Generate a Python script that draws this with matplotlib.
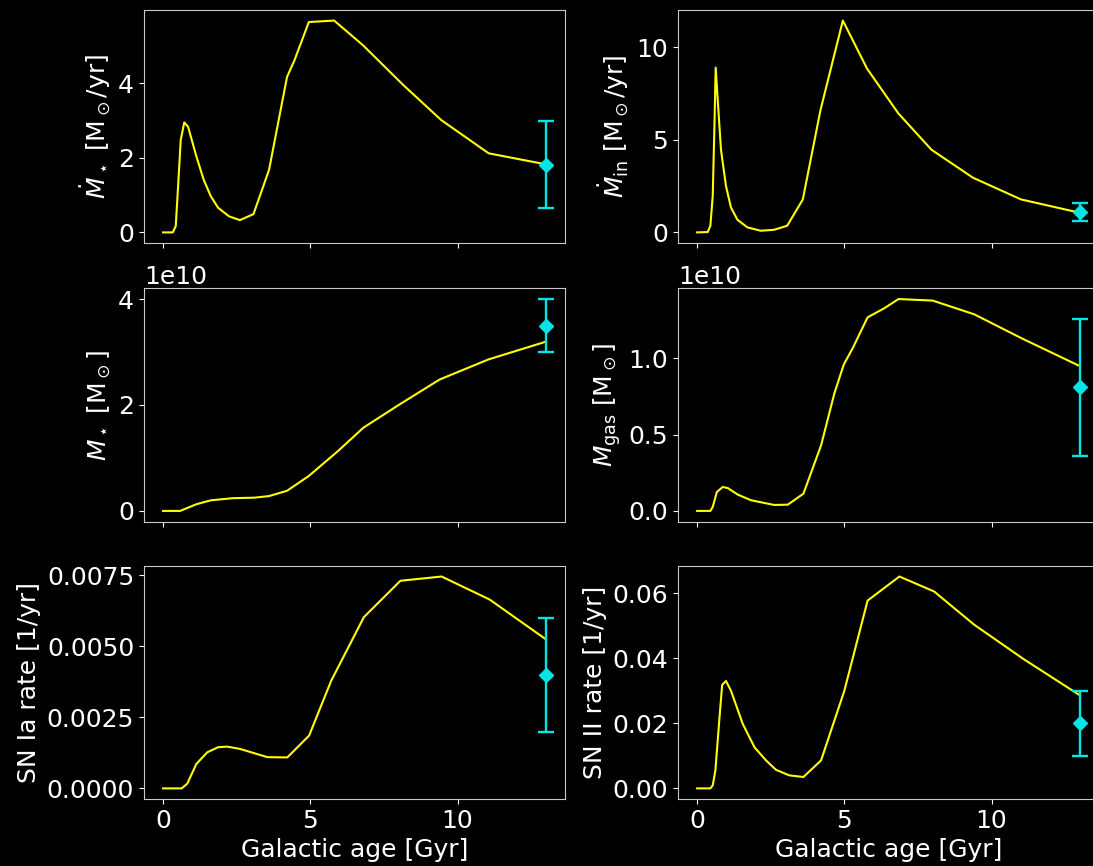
import numpy as np
import matplotlib
matplotlib.use('Agg')
import matplotlib.pyplot as plt

# star formation rate [Msun/yr]
t_sfr = [0, 0.33, 0.43, 0.51, 0.60, 0.72, 0.85, 1.13, 1.38, 1.62, 1.87, 2.24, 2.61, 3.07,
         3.60, 4.21, 4.46, 4.95, 5.81, 6.80, 8.16, 9.45, 11.06, 12.97]
sfr = [0, 0, 0.17, 1.24, 2.48, 2.95, 2.83, 2.04, 1.41, 0.97, 0.66, 0.43, 0.33, 0.49,
       1.68, 4.17, 4.61, 5.64, 5.68, 5.01, 3.95, 3.01, 2.12, 1.83]

# infall rate [Msun/yr]
t_inf = [0, 0.36, 0.45, 0.53, 0.59, 0.63, 0.70, 0.81, 0.98, 1.15, 1.37, 1.71, 2.16, 2.61,
         3.06, 3.59, 4.19, 4.95, 5.77, 6.83, 7.96, 9.37, 11.0, 12.97]
inflow = [0, 0.02, 0.36, 1.96, 5.89, 8.89, 7.14, 4.46, 2.5, 1.34, 0.68, 0.27, 0.09, 0.14,
          0.36, 1.78, 6.6, 11.43, 8.84, 6.43, 4.46, 2.95, 1.78, 1.07]

# stellar mass [1e10 Msun]
t_mstar = [0, 0.58, 1.13, 1.62, 2.36, 3.10, 3.60, 4.21, 4.95, 5.94, 6.80, 8.03, 9.39, 11.05, 12.97]
mstar = [0, 0, 0.126, 0.20, 0.24, 0.25, 0.28, 0.38, 0.66, 1.13, 1.57, 2.01, 2.48, 2.86, 3.19]

# gas mass [1e10 Msun]
t_mgas = [0, 0.45, 0.53, 0.67, 0.87, 1.04, 1.38, 1.83, 2.62, 3.08, 3.61, 4.21, 4.66, 4.98,
          5.29, 5.79, 6.36, 6.84, 8.0, 9.41, 11.05, 13.0]
mgas = [0, 0, 0.026, 0.124, 0.157, 0.150, 0.107, 0.07, 0.039, 0.041, 0.113, 0.43, 0.77, 0.96,
        1.07, 1.27, 1.33, 1.39, 1.38, 1.29, 1.13, 0.95]

# SN Ia rate [1/yr]
t_snia = [0, 0.63, 0.82, 1.13, 1.50, 1.87, 2.18, 2.61, 3.54, 4.22, 4.96, 5.71, 6.82, 8.06,
          9.46, 11.09, 13.0]
snia = [0, 0, 0.000164, 0.00086, 0.00127, 0.00145, 0.00147, 0.00139, 0.0011, 0.00109,
        0.00186, 0.00379, 0.00603, 0.00731, 0.00746, 0.00665, 0.00525]

# SN II rate [1/yr]
t_snii = [0, 0.45, 0.53, 0.62, 0.76, 0.85, 0.98, 1.15, 1.55, 1.95, 2.34, 2.68, 3.13, 3.61,
          4.21, 5.0, 5.79, 6.87, 8.05, 9.41, 11.11, 13.0]
snii = [0, 0, 0.0009, 0.0055, 0.0218, 0.0318, 0.033, 0.030, 0.0198, 0.0126, 0.0086, 0.0057,
        0.004, 0.0035, 0.0086, 0.030, 0.0577, 0.0651, 0.0605, 0.0503, 0.0396, 0.0286]

# observed present-day values (age 13 Gyr)
t_obs = 13.0
obs_sfr, err_sfr = 1.8, [[1.15], [1.2]]
obs_inf, err_inf = 1.1, 0.5
obs_mstar, err_mstar = 3.5e10, 0.5e10
obs_mgas, err_mgas = 0.81e10, 0.45e10
obs_snia, err_snia = 0.004, 0.002
obs_snii, err_snii = 0.02, 0.01

plt.rcParams['font.size'] = 18
plt.rcParams['mathtext.fontset'] = 'dejavusans'

fig = plt.figure(figsize=(10.93, 8.66), dpi=100, facecolor='black')

lefts = [0.1317, 0.6203]
bottoms = [0.7194, 0.3978, 0.0774]
w, h = 0.3852, 0.2691

panels = [
    (t_sfr, sfr, 1.0, obs_sfr, err_sfr, r'$\dot{M}_\star$ [M$_\odot$/yr]'),
    (t_inf, inflow, 1.0, obs_inf, err_inf, r'$\dot{M}_{\rm in}$ [M$_\odot$/yr]'),
    (t_mstar, mstar, 1e10, obs_mstar, err_mstar, r'$M_\star$ [M$_\odot$]'),
    (t_mgas, mgas, 1e10, obs_mgas, err_mgas, r'$M_{\rm gas}$ [M$_\odot$]'),
    (t_snia, snia, 1.0, obs_snia, err_snia, 'SN Ia rate [1/yr]'),
    (t_snii, snii, 1.0, obs_snii, err_snii, 'SN II rate [1/yr]'),
]

i = 0
for t, y, scale, obs, err, lab in panels:
    row = i // 2
    col = i % 2
    ax = fig.add_axes([lefts[col], bottoms[row], w, h])
    ax.set_facecolor('black')
    ax.plot(t, np.array(y) * scale, color='#ffff00', lw=1.5)
    ax.errorbar(t_obs, obs, yerr=err, fmt='D', color='#00e5e5', ms=7,
                capsize=6, elinewidth=1.7, capthick=1.7)
    ax.set_ylabel(lab, color='white')
    ax.set_xticks([0, 5, 10])
    for s in ax.spines.values():
        s.set_color('#c8c8c8')
    ax.tick_params(colors='white', labelcolor='white')
    ax.yaxis.get_offset_text().set_color('white')
    if row < 2:
        ax.set_xticklabels([])
    else:
        ax.set_xlabel('Galactic age [Gyr]', color='white')
    i = i + 1

fig.savefig('out.png', dpi=100, facecolor='black')
